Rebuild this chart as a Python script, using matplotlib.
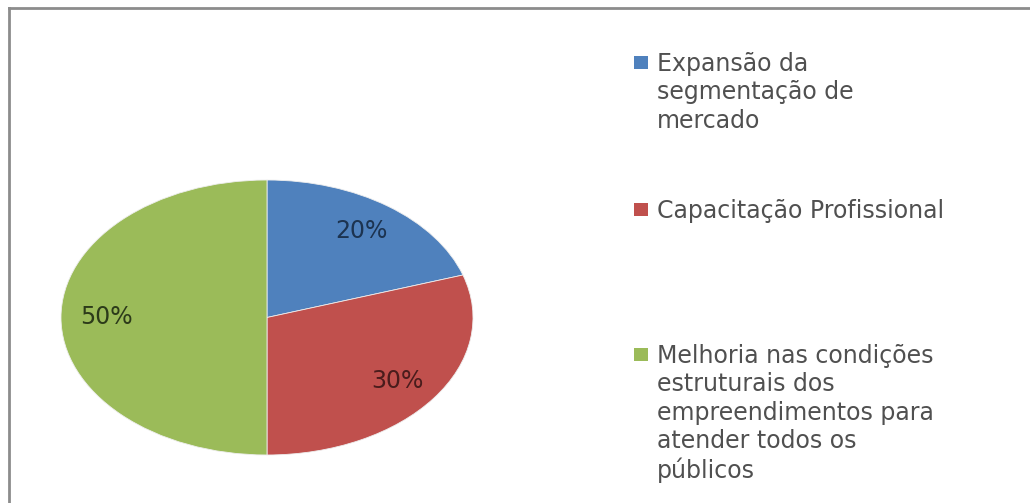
import matplotlib
matplotlib.use("Agg")
import matplotlib.pyplot as plt
from matplotlib.patches import Rectangle
from matplotlib.lines import Line2D

# data
labels = ["Expansão da\nsegmentação de\nmercado",
          "Capacitação Profissional",
          "Melhoria nas condições\nestruturais dos\nempreendimentos para\natender todos os\npúblicos"]
values = [20, 30, 50]
colors = ["#4F81BD", "#C0504D", "#9BBB59"]
pct_colors = ["#1c3350", "#4a1c1c", "#2c3a1a"]

W, H = 1030, 503
fig = plt.figure(figsize=(W / 100, H / 100), dpi=100)
fig.patch.set_facecolor("white")

def fx(px):
    return px / W

def fy(py):
    return 1 - py / H

# frame lines (top and left edge of the chart area)
fig.add_artist(Line2D([fx(9), 1], [fy(8), fy(8)], color="#8c8c8c", lw=2))
fig.add_artist(Line2D([fx(9), fx(9)], [fy(8), 0], color="#8c8c8c", lw=2))

# pie, stretched horizontally like the original
ax = fig.add_axes([fx(61), fy(455), fx(473) - fx(61), fy(180) - fy(455)])
wedges, texts, autotexts = ax.pie(
    values, colors=colors, startangle=90, counterclock=False,
    autopct="%d%%", pctdistance=0.78,
    wedgeprops=dict(edgecolor="#eeeeee", linewidth=0.6),
    textprops=dict(fontsize=17, family="DejaVu Sans"))
for t, c in zip(autotexts, pct_colors):
    t.set_color(c)
ax.set_aspect("auto")
ax.set_xlim(-1, 1)
ax.set_ylim(-1, 1)
ax.axis("off")

# legend drawn by hand so the multi-line entries sit like the original
tops = [52, 199, 344]
for lab, col, yt in zip(labels, colors, tops):
    fig.add_artist(Rectangle((fx(634), fy(yt + 17)), fx(14), 13 / H,
                             facecolor=col, edgecolor="none"))
    fig.text(fx(657), fy(yt), lab, fontsize=17, color="#505050",
             family="DejaVu Sans", va="top", ha="left", linespacing=1.23)

fig.savefig("out.png", dpi=100, facecolor="white")
